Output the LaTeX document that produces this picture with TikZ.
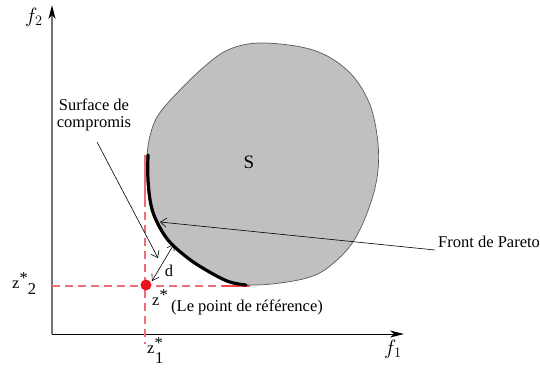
\documentclass[tikz,border=0pt]{standalone}
\usepackage{fontspec}
\setmainfont{Liberation Serif}
\usetikzlibrary{arrows.meta}
\definecolor{blobfill}{RGB}{192,192,192}
\definecolor{blobline}{RGB}{90,90,90}
\definecolor{dashred}{RGB}{238,110,118}
\definecolor{dotred}{RGB}{235,20,30}
\tikzset{
  axis/.style={line width=1pt,-{Stealth[length=14pt,width=7pt,inset=4pt,color=black]}},
  refline/.style={dashred,line width=1.3pt,dash pattern=on 8pt off 5pt},
  callout/.style={line width=0.6pt,-{Straight Barb[length=6pt,width=9pt]}},
  lbl/.style={inner sep=0pt,font=\fontsize{16.5}{16.5}\selectfont},
  axlbl/.style={inner sep=0pt,font=\fontsize{21}{21}\selectfont},
}
\begin{document}
\begin{tikzpicture}[x=1pt,y=-1pt]
\useasboundingbox (0,0) rectangle (540,367);
\clip (0,0) rectangle (540,367);
% axes
\coordinate (O) at (52,334);
\coordinate (Ytip) at (52,5);
\coordinate (Xtip) at (404,334);
\draw[axis,draw=black!55,line width=1.3pt] (O) -- (Ytip);
\draw[axis] (O) -- (Xtip);
\node[axlbl] (f2) at (34,17) {$f_2$};
\node[axlbl] (f1) at (393,349) {$f_1$};
% feasible set
\draw[fill=blobfill,draw=blobline,line width=0.7pt]
  plot[smooth cycle,tension=0.6] coordinates {
  (147,155) (151,132) (159,114) (178,92) (205,66) (230,49) (263,43)
  (313,50) (347,70) (368,100) (377,135) (378,170) (370,205) (353,242)
  (330,266) (310,277) (280,283) (250,285) (227,281) (200,267) (183,255)
  (167,240) (156,222) (150,205) (147,180)};
\node[lbl,font=\fontsize{19}{19}\selectfont] (S) at (249,162) {S};
% reference lines
\coordinate (vtop) at (145,155);
\coordinate (vmid) at (145,199);
\coordinate (vbot) at (145,344);
\coordinate (hleft) at (52,286);
\coordinate (hright) at (250,286);
\draw[dashred,line width=1.4pt] (vtop) -- (vmid);
\draw[refline] (vmid) -- (vbot);
\draw[refline] (hleft) -- (hright);
\draw[dashred!60!red,line width=2pt] (222,285.5) -- (250,285.5);
% Pareto front
\draw[line width=3.2pt,line cap=round]
  plot[smooth,tension=0.6] coordinates {
  (148,155) (148,180) (151,205) (157,222) (168,240) (184,255) (201,267) (227,281) (246,285)};
% reference point
\node[circle,fill=dotred,inner sep=0pt,minimum size=11pt] (z) at (146,285) {};
\node[lbl,anchor=base west] (zlab) at (152,305) {z\raisebox{5pt}{*}};
\node[lbl,anchor=base west] (ref) at (171,311) {(Le point de référence)};
\node[lbl,anchor=base west] (z2) at (12,288) {z\raisebox{5pt}{*}\raisebox{-6pt}{2}};
\node[lbl,anchor=base west] (z1) at (147,353) {z\raisebox{5pt}{*}};
\node[lbl,anchor=base west] (z1sub) at (155,363) {1};
% distance d
\coordinate (dA) at (174,244);
\coordinate (dB) at (152,281);
\draw[line width=0.6pt,{Straight Barb[length=6pt,width=8pt]}-{Straight Barb[length=6pt,width=8pt]}] (dA) -- (dB);
\node[lbl] (d) at (169,271) {d};
% callouts
\node[lbl,align=center,anchor=north] (surf) at (94,99) {Surface de\\compromis};
\coordinate (sA) at (97,142);
\coordinate (sB) at (158,258);
\draw[callout] (sA) -- (sB);
\node[lbl,anchor=base west] (front) at (438,247) {Front de Pareto};
\coordinate (pA) at (435,250);
\coordinate (pB) at (160,222);
\draw[callout] (pA) -- (pB);
\end{tikzpicture}
\end{document}
